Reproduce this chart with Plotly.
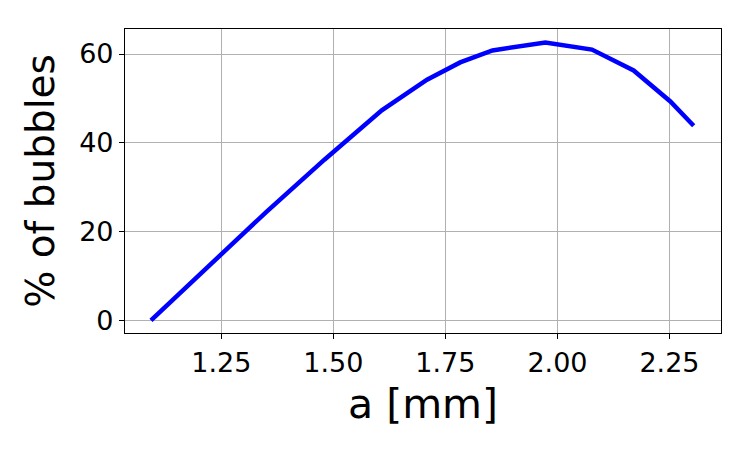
import plotly.graph_objects as go

a_mm = [1.093, 1.22, 1.35, 1.48, 1.608, 1.709, 1.783, 1.855, 1.973, 2.077, 2.170, 2.252, 2.304]
pct_bubbles = [0.0, 12.1, 24.4, 36.2, 47.3, 54.2, 58.1, 60.8, 62.6, 61.0, 56.3, 49.3, 43.85]

x_ticks = [1.25, 1.50, 1.75, 2.00, 2.25]
x_ticklabels = ["1.25", "1.50", "1.75", "2.00", "2.25"]
y_ticks = [0, 20, 40, 60]

fig = go.Figure()
fig.add_trace(go.Scatter(x=a_mm, y=pct_bubbles, mode="lines",
                         line=dict(color="#0000ff", width=4.5), showlegend=False))

font = "DejaVu Sans"
fig.update_layout(
    width=750, height=450,
    margin=dict(l=125, r=29, t=29, b=117),
    paper_bgcolor="white", plot_bgcolor="white",
    font=dict(family=font, color="black", size=27),
)
fig.update_xaxes(
    range=[1.035, 2.365], tickvals=x_ticks, ticktext=x_ticklabels,
    showline=True, linecolor="black", linewidth=1.2, mirror=True,
    ticks="outside", ticklen=5, tickwidth=1.2, tickcolor="black",
    showgrid=True, gridcolor="#b0b0b0", gridwidth=1.4, zeroline=False,
    tickfont=dict(size=27, family=font, color="black"),
    title=dict(text="a [mm]", font=dict(size=41, family=font, color="black"), standoff=12),
)
fig.update_yaxes(
    range=[-2.84, 65.63], tickvals=y_ticks,
    showline=True, linecolor="black", linewidth=1.2, mirror=True,
    ticks="outside", ticklen=5, tickwidth=1.2, tickcolor="black",
    showgrid=True, gridcolor="#b0b0b0", gridwidth=1.4, zeroline=False,
    tickfont=dict(size=27, family=font, color="black"),
    title=dict(text="% of bubbles", font=dict(size=39, family=font, color="black"), standoff=12),
)
fig.write_html("out.html")
